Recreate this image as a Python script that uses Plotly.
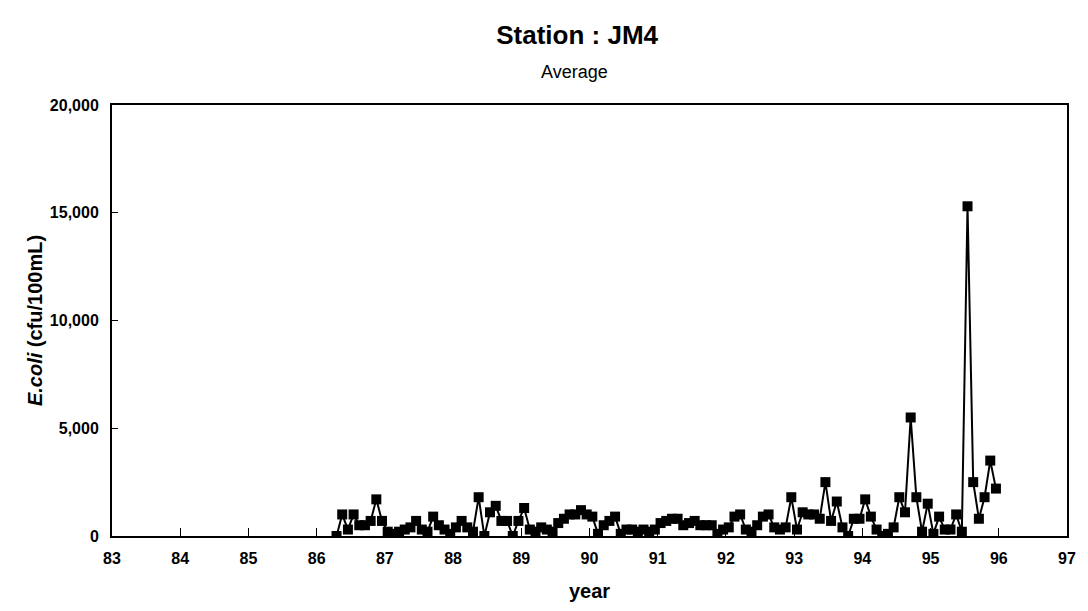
import plotly.graph_objects as go

# Monthly average E.coli (cfu/100mL), April 1986 .. December 1995
start_year = 86
start_month = 4
ecoli = [
    0, 1000, 300, 1000, 500, 500, 700, 1700, 700,                      # 1986 Apr-Dec
    200, 100, 200, 300, 400, 700, 300, 200, 900, 500, 300, 100,          # 1987
    400, 700, 400, 200, 1800, 0, 1100, 1400, 700, 700, 0, 700,           # 1988
    1300, 300, 200, 400, 300, 200, 600, 800, 1000, 1000, 1200, 1000,     # 1989
    900, 100, 500, 700, 900, 100, 300, 300, 200, 300, 200, 300,          # 1990
    600, 700, 800, 800, 500, 600, 700, 500, 500, 500, 100, 300,          # 1991
    400, 900, 1000, 300, 200, 500, 900, 1000, 400, 300, 400, 1800,       # 1992
    300, 1100, 1000, 1000, 800, 2500, 700, 1600, 400, 0, 800, 800,       # 1993
    1700, 900, 300, 0, 100, 400, 1800, 1100, 5500, 1800, 200, 1500,      # 1994
    100, 900, 300, 300, 1000, 200, 15300, 2500, 800, 1800, 3500, 2200,   # 1995
]
x_ticks = list(range(83, 98))
y_ticks = [0, 5000, 10000, 15000, 20000]

years = [start_year + (start_month - 1 + i + 0.5) / 12 for i in range(len(ecoli))]

FONT = "Liberation Sans, Arial, sans-serif"

fig = go.Figure()
fig.add_trace(go.Scatter(
    x=years, y=ecoli, mode="lines+markers",
    line=dict(color="black", width=2),
    marker=dict(symbol="square", size=10, color="black"),
    showlegend=False,
))

fig.update_layout(
    width=1080, height=603,
    paper_bgcolor="white", plot_bgcolor="white",
    margin=dict(l=104, r=13, t=97, b=74),
    font=dict(family=FONT, color="black"),
    title=dict(
        text="<b>Station : JM4</b>",
        x=0.527, xanchor="center", xref="container",
        y=0.955, yanchor="middle", yref="container",
        font=dict(size=26, family=FONT, color="black"),
    ),
    annotations=[dict(
        text="Average", xref="paper", yref="paper",
        x=0.484, y=1.076, xanchor="center", yanchor="middle",
        showarrow=False, font=dict(size=18, family=FONT, color="black"),
    )],
)
fig.update_xaxes(
    range=[83, 97], tickvals=x_ticks, ticktext=[str(v) for v in x_ticks],
    ticks="inside", ticklen=8, tickcolor="black", tickwidth=1,
    showline=True, linecolor="black", linewidth=2, mirror=True,
    showgrid=False, zeroline=False,
    tickfont=dict(size=16, family=FONT, weight="bold"),
    ticklabelstandoff=7,
    title=dict(text="<b>year</b>", font=dict(size=20, family=FONT), standoff=18),
)
fig.update_yaxes(
    range=[0, 20000], tickvals=y_ticks, tickformat=",",
    ticks="inside", ticklen=6, tickcolor="black", tickwidth=1,
    showline=True, linecolor="black", linewidth=2, mirror=True,
    showgrid=False, zeroline=False,
    tickfont=dict(size=16, family=FONT, weight="bold"),
    ticklabelstandoff=8,
    title=dict(text="<b><i>E.coli</i> (cfu/100mL)</b>", font=dict(size=20, family=FONT), standoff=2),
)

fig.write_html("out.html")
